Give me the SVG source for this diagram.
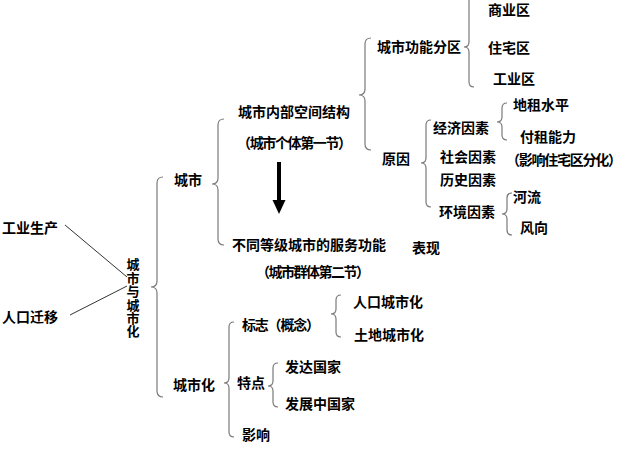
<svg xmlns="http://www.w3.org/2000/svg" width="629" height="461" viewBox="0 0 629 461">
<style>
text{font-family:"Noto Sans CJK SC","Noto Sans CJK JP",sans-serif;font-size:14px;font-weight:bold;fill:#000}
.vt{font-size:13px;writing-mode:vertical-rl;letter-spacing:0.4px}
.br{fill:none;stroke:#7a7a7a;stroke-width:1.2}
.ln{stroke:#333;stroke-width:1}
</style>
<rect width="629" height="461" fill="#fff"/>
<g id="connectors">
<line class="ln" x1="65" y1="225" x2="127" y2="277"/>
<line class="ln" x1="70" y1="315" x2="127" y2="286"/>
<path class="br" d="M163 177 Q157 177 157 183 L157 281 Q157 287 151 287 Q157 287 157 293 L157 391 Q157 397 163 397"/>
<path class="br" d="M224 119 Q218 119 218 125 L218 178 Q218 184 212 184 Q218 184 218 190 L218 239 Q218 245 224 245"/>
<path class="br" d="M234 322 Q229 322 229 327 L229 378 Q229 383 224 383 Q229 383 229 388 L229 432 Q229 437 234 437"/>
<path class="br" d="M371 38 Q365 38 365 44 L365 89 Q365 95 359 95 Q365 95 365 101 L365 144 Q365 150 371 150"/>
<path class="br" d="M474 -5 Q469 -5 469 0 L469 42 Q469 47 464 47 Q469 47 469 52 L469 82 Q469 87 474 87"/>
<path class="br" d="M431 120 Q426 120 426 125 L426 158 Q426 163 421 163 Q426 163 426 168 L426 202 Q426 207 431 207"/>
<path class="br" d="M507 103 Q502 103 502 108 L502 117 Q502 122 497 122 Q502 122 502 127 L502 135 Q502 140 507 140"/>
<path class="br" d="M512 193 Q507 193 507 198 L507 209 Q507 214 502 214 Q507 214 507 219 L507 230 Q507 235 512 235"/>
<path class="br" d="M341 295 Q336 295 336 300 L336 309 Q336 314 331 314 Q336 314 336 319 L336 332 Q336 337 341 337"/>
<path class="br" d="M278 363 Q273 363 273 368 L273 381 Q273 386 268 386 Q273 386 273 391 L273 402 Q273 407 278 407"/>
<rect x="277" y="162" width="4" height="40" fill="#000"/>
<polygon points="272.5,200 285.5,200 279,214" fill="#000"/>
</g>
<g id="n-gongye"><text x="2" y="233">工业生产</text></g>
<g id="n-renkou"><text x="2" y="322">人口迁移</text></g>
<g id="n-root"><text class="vt" x="133" y="258">城市与城市化</text></g>
<g id="n-city"><text x="174" y="185">城市</text></g>
<g id="n-inner"><text x="238" y="117">城市内部空间结构</text><text x="237" y="148" textLength="115">（城市个体第一节）</text></g>
<g id="n-service"><text x="232" y="250">不同等级城市的服务功能</text><text x="256" y="277" textLength="114">（城市群体第二节）</text></g>
<g id="n-biaoxian"><text x="412" y="253">表现</text></g>
<g id="n-zones"><text x="377" y="52">城市功能分区</text></g>
<g id="n-reason"><text x="382" y="164">原因</text></g>
<g id="n-shangye"><text x="488" y="15">商业区</text></g>
<g id="n-zhuzhai"><text x="488" y="53">住宅区</text></g>
<g id="n-gongyequ"><text x="493" y="84">工业区</text></g>
<g id="n-econ"><text x="433" y="133">经济因素</text></g>
<g id="n-dizu"><text x="513" y="110">地租水平</text></g>
<g id="n-fuzu"><text x="520" y="142">付租能力</text></g>
<g id="n-social"><text x="440" y="162">社会因素</text></g>
<g id="n-note"><text x="506" y="165" textLength="116">（影响住宅区分化）</text></g>
<g id="n-history"><text x="440" y="185">历史因素</text></g>
<g id="n-env"><text x="439" y="217">环境因素</text></g>
<g id="n-river"><text x="513" y="202">河流</text></g>
<g id="n-wind"><text x="520" y="233">风向</text></g>
<g id="n-urbanization"><text x="173" y="390">城市化</text></g>
<g id="n-sign"><text x="242" y="330" textLength="78">标志（概念）</text></g>
<g id="n-pop"><text x="353" y="307">人口城市化</text></g>
<g id="n-land"><text x="354" y="340">土地城市化</text></g>
<g id="n-feature"><text x="237" y="388">特点</text></g>
<g id="n-developed"><text x="285" y="372">发达国家</text></g>
<g id="n-developing"><text x="285" y="409">发展中国家</text></g>
<g id="n-impact"><text x="242" y="440">影响</text></g>
</svg>
